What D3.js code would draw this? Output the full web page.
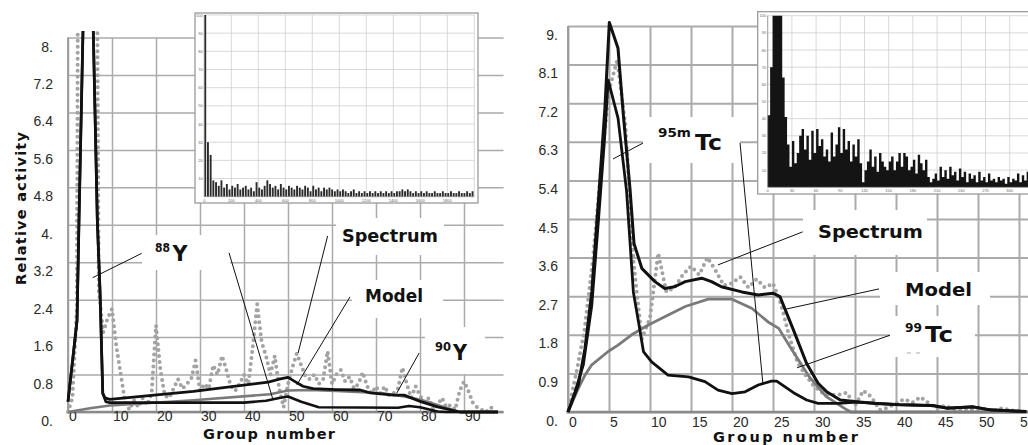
<!DOCTYPE html>
<html lang="en">
<head>
<meta charset="UTF-8">
<title>Spectrum decomposition</title>
<script src="https://d3js.org/d3.v7.min.js"></script>
<style>
  body { margin: 0; background: #fff; }
  svg { display: block; }
  .grid path { display: none; }
  .grid line { stroke: #ababab; }
  .tick-lbl { font-family: "Liberation Sans", Arial, sans-serif; font-size: 14px; fill: #2a2a2a; }
  .ttl { font-family: "DejaVu Sans", sans-serif; font-weight: bold; font-size: 14.5px; fill: #111; }
  .ann { font-family: "DejaVu Sans", sans-serif; font-weight: bold; fill: #111; }
  .leader { stroke: #111; stroke-width: 1; }
  .mini { font-family: "Liberation Sans", Arial, sans-serif; font-size: 4px; fill: #666; }
</style>
</head>
<body>
<svg width="1028" height="445"></svg>
<script>
// ---------- left panel (Y isotopes) ----------
var leftXTicks = [0, 10, 20, 30, 40, 50, 60, 70, 80, 90];
var leftYTicks = [0, 0.8, 1.6, 2.4, 3.2, 4, 4.8, 5.6, 6.4, 7.2, 8];
var leftYLabels = ["0.", "0.8", "1.6", "2.4", "3.2", "4.", "4.8", "5.6", "6.4", "7.2", "8."];

// spectrum, one value per group 0..97
var leftSpectrum = [0, 0.3, 2.2, 30, 45, 40, 20, 2.6, 1.7, 2.0,
  2.2, 1.4, 0.8, 0.2, 0.05, 0.25, 0.1, 0.3, 0.15, 0.4,
  1.85, 0.9, 0.35, 0.3, 0.5, 0.7, 0.5, 0.6, 0.7, 1.1,
  0.45, 0.6, 0.5, 1.0, 0.8, 1.2, 0.9, 0.55, 0.45, 0.6,
  0.8, 0.6, 1.4, 2.3, 1.5, 1.2, 0.8, 1.2, 0.5, 0.1,
  0.6, 0.95, 1.25, 1.0, 0.75, 0.7, 0.8, 0.6, 0.7, 1.3,
  0.6, 0.8, 0.9, 0.65, 0.75, 0.5, 0.6, 0.85, 0.55, 0.4,
  0.55, 0.4, 0.55, 0.35, 0.4, 0.5, 0.95, 0.6, 0.3, 0.55,
  0.35, 0.2, 0.3, 0.05, 0.15, 0.3, 0.1, 0.15, 0.05, 0.45,
  0.65, 0.45, 0.2, 0.1, 0.05, 0, 0.1, 0.05];

// [group, activity]
var leftModel = [[0, 0.22], [2.05, 1.95], [2.5, 4.1], [3.4, 8.12], [4.5, 14], [5.75, 8.12],
  [6.66, 4.1], [7.27, 2.6], [7.9, 0.4], [8.4, 0.3], [9.5, 0.27], [28.5, 0.44], [45.5, 0.64],
  [48, 0.7], [50, 0.74], [51.6, 0.65], [53.4, 0.55], [55.7, 0.5], [61, 0.48], [66.4, 0.47],
  [68.7, 0.41], [74, 0.36], [76.4, 0.36], [80.2, 0.22], [84, 0.11], [89.1, 0], [97.7, 0]];
var leftY88 = [[0, 0.22], [2.05, 1.95], [2.5, 4.1], [3.4, 8.12], [4.5, 14], [5.75, 8.12],
  [6.66, 4.1], [7.27, 2.6], [7.9, 0.4], [8.6, 0.22], [9.5, 0.2], [20, 0.2], [40, 0.2],
  [45, 0.24], [48, 0.3], [50, 0.33], [53, 0.22], [57, 0.1], [75, 0.09], [77.5, 0.13],
  [80, 0.1], [84, 0.01], [86, 0], [97.7, 0]];
var leftY90 = [[0, 0], [5, 0.08], [9.5, 0.14], [28.5, 0.25], [45.9, 0.38], [50, 0.46],
  [55, 0.47], [61, 0.45], [71.6, 0.4], [76.4, 0.33], [80.2, 0.26], [84, 0.15],
  [87.7, 0.04], [89.1, 0], [97.7, 0]];

// ---------- right panel (Tc isotopes) ----------
var rightXTicks = [0, 5, 10, 15, 20, 25, 30, 35, 40, 45, 50, 55];
var rightYTicks = [0, 0.9, 1.8, 2.7, 3.6, 4.5, 5.4, 6.3, 7.2, 8.1, 9];
var rightYLabels = ["0.", "0.9", "1.8", "2.7", "3.6", "4.5", "5.4", "6.3", "7.2", "8.1", "9."];

// spectrum, one value per group 0..55
var rightSpectrum = [0, 0.9, 1.9, 3.5, 5.6, 7.5, 8.2, 6.7, 3.5, 1.7,
  2.2, 3.7, 2.8, 2.9, 3.2, 3.4, 3.2, 3.6, 3.3, 2.95,
  3.0, 3.15, 2.9, 3.1, 2.9, 3.0, 2.5, 1.75, 1.15, 0.85,
  0.6, 0.45, 0.4, 0.4, 0.45, 0.15, 0.5, 0.35, 0.05, 0.1,
  0.2, 0.3, 0.22, 0.35, 0.2, 0.08, 0.15, 0.06, 0.04, 0.08,
  0.02, 0.05, 0.03, 0.09, 0.04, 0.02];

var rightModel = [[0, 0], [1.26, 0.63], [2.07, 1.48], [2.9, 2.8], [3.7, 4.9], [4.5, 7.08],
  [5.04, 9.08], [6.1, 8.48], [6.75, 6.92], [7.56, 5.2], [8.05, 3.93], [9, 3.35], [10.6, 3.04],
  [11.8, 2.88], [13, 2.92], [14.3, 3.04], [16.3, 3.12], [17.5, 3.04], [18.7, 2.92],
  [21.2, 2.8], [23.2, 2.73], [25, 2.77], [25.85, 2.69], [27.5, 1.91], [29.1, 1.13],
  [30.5, 0.67], [31.5, 0.48], [33.2, 0.28], [35.2, 0.24], [37.6, 0.2], [40.4, 0.17],
  [44.5, 0.15], [46.2, 0.09], [49.4, 0.12], [51.5, 0.05], [55.9, 0.01]];
var rightTc95m = [[0, 0], [0.85, 0.47], [1.87, 1.1], [2.9, 2.49], [3.7, 4.44], [4.43, 6.3],
  [4.9, 7.74], [6.1, 6.85], [7.15, 5.14], [7.97, 2.8], [8.6, 2.1], [9.2, 1.41], [10.2, 1.17],
  [12.2, 0.86], [14.7, 0.82], [16.7, 0.71], [18.3, 0.51], [20, 0.43], [21.6, 0.47],
  [23.2, 0.63], [24.8, 0.72], [25.45, 0.72], [27.5, 0.45], [29.1, 0.28], [30.5, 0.2],
  [33, 0.2], [35.2, 0.23], [37.6, 0.2], [40.4, 0.17], [44.5, 0.15], [46.2, 0.09],
  [49.4, 0.12], [51.5, 0.05], [55.9, 0.01]];
var rightTc99 = [[0, 0], [1.26, 0.55], [2.07, 0.86], [2.9, 1.1], [4.9, 1.41], [6.1, 1.56],
  [7.76, 1.8], [9.8, 2.03], [11.8, 2.22], [14.3, 2.46], [17.1, 2.63], [20, 2.63],
  [22.4, 2.42], [24.4, 2.1], [25.7, 1.95], [27.3, 1.45], [29.5, 0.8], [31.5, 0.36],
  [34, 0.05], [34.5, 0], [55.9, 0]];

// ---------- insets (raw spectra, % of max) ----------
var leftInsetTicks = [0, 200, 400, 600, 800, 1000, 1200, 1400, 1600, 1800];
var leftInsetCounts = [100, 30, 23, 9, 8, 6, 9, 5, 7, 4, 6, 5, 7, 4, 5, 6, 4, 5, 3, 8,
  5, 4, 6, 9, 7, 5, 6, 4, 7, 5, 4, 6, 5, 4, 6, 5, 4, 6, 5, 3,
  6, 4, 5, 3, 5, 4, 5, 4, 3, 4, 3, 4, 3, 2, 3, 4, 2, 3, 2, 3,
  2, 3, 2, 3, 2, 3, 2, 3, 2, 3, 2, 3, 3, 4, 3, 4, 3, 2, 3, 2,
  3, 2, 3, 2, 2, 3, 2, 2, 3, 2, 2, 3, 2, 2, 3, 2, 2, 3, 2, 3];
var rightInsetTicks = [0, 30, 60, 90, 120, 150, 180, 210, 240, 270, 300];
var rightInsetCounts = [42, 70, 100, 100, 100, 100, 64, 41, 25, 12, 27, 14, 20, 30, 34, 22,
  30, 16, 33, 20, 34, 24, 28, 18, 22, 15, 32, 18, 25, 35, 20, 34, 22, 27, 15, 25, 18, 28,
  14, 3, 10, 15, 22, 12, 18, 9, 20, 15, 12, 10, 15, 18, 10, 15, 20, 12, 20, 18, 10, 12,
  16, 8, 19, 14, 10, 16, 6, 3, 5, 8, 4, 12, 6, 10, 5, 12, 7, 9, 4, 11, 6, 9, 3, 8, 5, 7,
  3, 9, 4, 6, 3, 8, 4, 5, 3, 6, 4, 5, 2, 6, 3, 5, 4, 8, 3, 7, 4, 9];
var insetYTicks = [10, 20, 30, 40, 50, 60, 70, 80, 90, 100];

var svg = d3.select("svg");

var xL = d3.scaleLinear().domain([0, 99]).range([68, 503.6]);
var yL = d3.scaleLinear().domain([0, 8]).range([412, 37.6]);
var xR = d3.scaleLinear().domain([0, 55]).range([568, 1019]);
var yR = d3.scaleLinear().domain([0, 9]).range([412, 26]);

var defs = svg.append("defs");
defs.append("clipPath").attr("id", "clipL").append("rect")
  .attr("x", 66).attr("y", 31).attr("width", 440).attr("height", 383);
defs.append("clipPath").attr("id", "clipR").append("rect")
  .attr("x", 566).attr("y", 14).attr("width", 462).attr("height", 400);

function drawPanel(o) {
  var g = svg.append("g");
  var x = o.x, y = o.y, x0 = x.range()[0], y0 = y.range()[0];

  // grid
  g.append("g").attr("class", "grid").attr("transform", "translate(" + x0 + ",0)")
    .call(d3.axisLeft(y).tickValues(o.yTicks).tickSize(-(o.right - x0)).tickFormat(""))
    .selectAll("line").style("stroke-width", o.gridW);
  g.append("g").attr("class", "grid").attr("transform", "translate(0," + y0 + ")")
    .call(d3.axisBottom(x).tickValues(o.xTicks).tickSize(-(y0 - y(o.yTicks[o.yTicks.length - 1]))).tickFormat(""))
    .selectAll("line").style("stroke-width", o.gridW);

  // axis lines
  g.append("line").attr("x1", x0).attr("x2", o.right).attr("y1", y0).attr("y2", y0)
    .attr("stroke", "#8a8a8a").attr("stroke-width", 2.6);
  g.append("line").attr("x1", x0).attr("x2", x0).attr("y1", y0).attr("y2", y(o.yTicks[o.yTicks.length - 1]))
    .attr("stroke", "#9a9a9a").attr("stroke-width", 1.8);

  // tick labels
  g.selectAll(".ylbl").data(o.yTicks).join("text").attr("class", "tick-lbl")
    .attr("x", o.yLabelX).attr("y", function (d) { return y(d) + o.yLabelDy; })
    .attr("text-anchor", "end").text(function (d, i) { return o.yLabels[i]; });
  g.selectAll(".xlbl").data(o.xTicks).join("text").attr("class", "tick-lbl")
    .attr("x", function (d) { return x(d) + 1; }).attr("y", o.xLabelY)
    .text(function (d) { return d; });

  // white label boxes
  g.selectAll(".box").data(o.boxes).join("rect")
    .attr("x", function (d) { return d[0]; }).attr("y", function (d) { return d[1]; })
    .attr("width", function (d) { return d[2]; }).attr("height", function (d) { return d[3]; })
    .attr("fill", "#fff");

  // curves
  var plot = g.append("g").attr("clip-path", "url(#" + o.clip + ")");
  var line = d3.line().x(function (d) { return x(d[0]); }).y(function (d) { return y(d[1]); });
  var specLine = d3.line().x(function (d, i) { return x(i); }).y(function (d) { return y(d); });
  plot.append("path").attr("d", specLine(o.spectrum)).attr("fill", "none")
    .attr("stroke", "#a3a3a3").attr("stroke-width", 4).attr("stroke-linecap", "round")
    .attr("stroke-dasharray", "0 6");
  o.curves.forEach(function (c) {
    plot.append("path").attr("d", line(c.data)).attr("fill", "none")
      .attr("stroke", c.color).attr("stroke-width", c.w).attr("stroke-linejoin", "round");
  });

  // leaders
  g.selectAll(".leader").data(o.leaders).join("line").attr("class", "leader")
    .attr("x1", function (d) { return x(d[0]); }).attr("y1", function (d) { return y(d[1]); })
    .attr("x2", function (d) { return x(d[2]); }).attr("y2", function (d) { return y(d[3]); });

  // x title
  g.append("text").attr("class", "ttl").attr("x", o.titleX).attr("y", o.titleY)
    .attr("textLength", o.titleLen).attr("lengthAdjust", "spacing").text("Group number");
  return g;
}

function ann(g, x, y, size, len, str) {
  g.append("text").attr("class", "ann").attr("x", x).attr("y", y)
    .style("font-size", size + "px").attr("textLength", len).attr("lengthAdjust", "spacingAndGlyphs").text(str);
}

var gl = drawPanel({
  x: xL, y: yL, right: 503.6, gridW: 1.5, clip: "clipL",
  xTicks: leftXTicks, yTicks: leftYTicks, yLabels: leftYLabels,
  yLabelX: 53, yLabelDy: 14, xLabelY: 421,
  boxes: [[142, 235, 88, 35], [336, 218, 108, 37], [352, 280, 91, 38], [425, 327, 60, 47]],
  spectrum: leftSpectrum,
  curves: [
    { data: leftY90, color: "#7a7a7a", w: 2.6 },
    { data: leftY88, color: "#111", w: 2.6 },
    { data: leftModel, color: "#111", w: 2.8 }
  ],
  leaders: [[16.75, 3.39, 5.61, 2.87], [36.6, 3.4, 46.6, 0.26], [59.0, 3.76, 52.3, 1.26],
    [64.1, 2.46, 52.0, 0.58], [79.8, 1.26, 74.7, 0.40]],
  titleX: 203, titleY: 439, titleLen: 132
});
ann(gl, 155, 252, 12, 15, "88");
ann(gl, 172.5, 261, 21, 15, "Y");
ann(gl, 342, 242, 17, 96, "Spectrum");
ann(gl, 365, 302, 17, 58, "Model");
ann(gl, 435, 351, 12, 16, "90");
ann(gl, 453, 360, 21, 14, "Y");
gl.append("text").attr("class", "ttl").attr("transform", "translate(25.5,285) rotate(-90)")
  .attr("textLength", 153).attr("lengthAdjust", "spacing").text("Relative activity");

var gr = drawPanel({
  x: xR, y: yR, right: 1028, gridW: 2, clip: "clipR",
  xTicks: rightXTicks, yTicks: rightYTicks, yLabels: rightYLabels,
  yLabelX: 558, yLabelDy: 13.5, xLabelY: 427,
  boxes: [[643, 117, 97, 46], [803, 210, 124, 45], [880, 272, 110, 33], [890, 316, 85, 41]],
  spectrum: rightSpectrum,
  curves: [
    { data: rightTc99, color: "#7a7a7a", w: 2.8 },
    { data: rightTc95m, color: "#111", w: 2.8 },
    { data: rightModel, color: "#111", w: 3 }
  ],
  leaders: [[9.15, 6.27, 5.49, 5.9], [20.98, 6.27, 23.78, 0.63], [28.62, 4.2, 18.29, 3.43],
    [37.93, 2.87, 26.59, 2.4], [39.27, 1.79, 27.93, 1.03]],
  titleX: 713, titleY: 442, titleLen: 145
});
ann(gr, 658, 137, 13, 33, "95m");
ann(gr, 695, 150, 22, 27, "Tc");
ann(gr, 818, 238, 17, 105, "Spectrum");
ann(gr, 905, 296, 17, 67, "Model");
ann(gr, 905, 332, 12, 17, "99");
ann(gr, 925, 342, 21, 28, "Tc");
gr.append("line").attr("x1", 907).attr("x2", 921).attr("y1", 353).attr("y2", 353)
  .attr("stroke", "#aaa").attr("stroke-width", 1).attr("stroke-dasharray", "4 5");

// ---------- insets ----------
function drawInset(o) {
  var g = svg.append("g");
  g.append("rect").attr("x", o.box[0]).attr("y", o.box[1]).attr("width", o.box[2]).attr("height", o.box[3])
    .attr("fill", "#fff").attr("stroke", "#9a9a9a").attr("stroke-width", 1.3);
  var x = o.x, y = o.y;
  var x0 = x.range()[0], y0 = y.range()[0];
  var grid = g.append("g");
  grid.selectAll(".v").data(o.xTicks.concat([o.xMax])).join("line")
    .attr("x1", function (d) { return x(d); }).attr("x2", function (d) { return x(d); })
    .attr("y1", y(0)).attr("y2", y(100)).attr("stroke", "#c9c9c9").attr("stroke-width", 0.7);
  grid.selectAll(".h").data(insetYTicks).join("line")
    .attr("x1", x0).attr("x2", x(o.xMax)).attr("y1", function (d) { return y(d); })
    .attr("y2", function (d) { return y(d); }).attr("stroke", "#c9c9c9").attr("stroke-width", 0.7);
  if (o.solid) {
    var area = d3.area().curve(d3.curveStepAfter)
      .x(function (d, i) { return x(i * o.bin); }).y0(y0).y1(function (d) { return y(d); });
    g.append("path").attr("d", area(o.counts.concat([o.counts[o.counts.length - 1]])))
      .attr("fill", o.color);
  } else {
    g.selectAll(".bar").data(o.counts).join("rect")
      .attr("x", function (d, i) { return x(i * o.bin); })
      .attr("width", (x(o.bin) - x(0)) * 0.7)
      .attr("y", function (d) { return y(d); })
      .attr("height", function (d) { return y0 - y(d); })
      .attr("fill", o.color);
  }
  g.append("line").attr("x1", x0).attr("x2", x0).attr("y1", y(0)).attr("y2", y(100))
    .attr("stroke", "#888").attr("stroke-width", 0.7);
  g.append("line").attr("x1", x0).attr("x2", x(o.xMax)).attr("y1", y0).attr("y2", y0)
    .attr("stroke", "#888").attr("stroke-width", 0.7);
  g.selectAll(".xl").data(o.xTicks).join("text").attr("class", "mini")
    .attr("x", function (d) { return x(d); }).attr("y", y0 + 5).attr("text-anchor", "middle")
    .text(function (d) { return d; });
  g.selectAll(".yl").data(insetYTicks).join("text").attr("class", "mini")
    .attr("x", x0 - 1.5).attr("y", function (d) { return y(d) + 1.5; }).attr("text-anchor", "end")
    .text(function (d) { return d; });
}

drawInset({
  box: [195, 13, 283, 190],
  x: d3.scaleLinear().domain([0, 2000]).range([204.3, 474.3]),
  y: d3.scaleLinear().domain([0, 100]).range([196.7, 15]),
  xTicks: leftInsetTicks, xMax: 2000, bin: 20, solid: false,
  counts: leftInsetCounts, color: "#2b2b2b"
});
drawInset({
  box: [757.7, 11.7, 280, 182.3],
  x: d3.scaleLinear().domain([0, 330]).range([767.7, 1033.9]),
  y: d3.scaleLinear().domain([0, 100]).range([187.3, 15.7]),
  xTicks: rightInsetTicks, xMax: 330, bin: 3, solid: true,
  counts: rightInsetCounts, color: "#141414"
});
</script>
</body>
</html>
